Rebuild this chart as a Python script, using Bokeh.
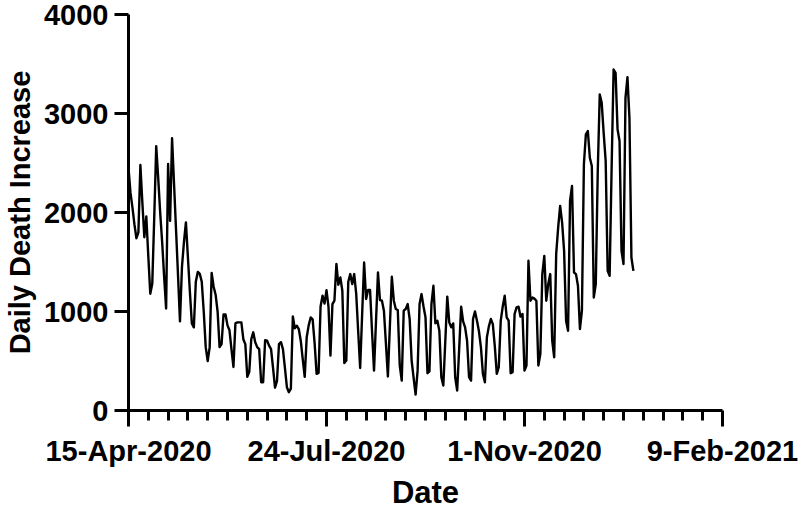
import pandas as pd
from bokeh.plotting import figure
from bokeh.models import Range1d, FixedTicker
from bokeh.embed import file_html
from bokeh.resources import INLINE

# ---- data ----
start_date = "2020-04-15"
deaths = [
    2450, 2200, 2050, 1880, 1740, 1800, 2480,
    2100, 1750, 1960, 1560, 1180, 1280, 1950,
    2670, 2350, 2000, 1700, 1350, 1030, 2490,
    1915, 2750, 2290, 1830, 1370, 900, 1450,
    1700, 1900, 1550, 1200, 880, 840, 1300,
    1400, 1380, 1300, 1000, 640, 500, 640,
    1390, 1250, 1170, 1000, 640, 670, 970,
    970, 860, 810, 620, 440, 880, 890,
    890, 890, 720, 670, 340, 390, 720,
    790, 690, 640, 620, 285, 285, 710,
    705, 655, 620, 430, 230, 300, 670,
    690, 620, 430, 235, 185, 220, 950,
    830, 857, 823, 705, 520, 340, 740,
    860, 940, 920, 680, 370, 380, 1050,
    1160, 1080, 1215, 1050, 554, 1075, 1110,
    1480, 1270, 1344, 1210, 480, 504, 1300,
    1378, 1277, 1378, 1180, 800, 430, 970,
    1495, 1126, 1217, 1217, 800, 403, 900,
    1394, 1116, 1109, 1008, 680, 343, 850,
    1351, 1109, 1025, 1015, 454, 302, 1008,
    1025, 1075, 924, 504, 330, 161, 400,
    1075, 1176, 1050, 941, 376, 396, 1075,
    1260, 880, 907, 806, 336, 252, 700,
    1150, 890, 840, 880, 336, 202, 620,
    1048, 900, 840, 705, 336, 302, 924,
    1001, 907, 800, 638, 370, 285, 739,
    850, 924, 873, 650, 370, 437, 907,
    1050, 1159, 941, 907, 376, 386, 975,
    1041, 1048, 948, 975, 403, 454, 1512,
    1109, 1142, 1130, 1109, 454, 571, 1378,
    1562, 1109, 1277, 1378, 705, 537, 1579,
    1848, 2066, 1898, 1613, 907, 806, 2117,
    2268, 1394, 1378, 1260, 823, 1008, 2487,
    2789, 2822, 2553, 2470, 1142, 1277, 2419,
    3192, 3108, 2800, 2520, 1411, 1361, 2450,
    3444, 3411, 2840, 2722, 1613, 1479, 3158,
    3367, 2957, 1545, 1411,
]
x_tick_dates = ["2020-04-15", "2020-07-24", "2020-11-01", "2021-02-09"]
x_tick_labels = ["15-Apr-2020", "24-Jul-2020", "1-Nov-2020", "9-Feb-2021"]
y_ticks = [0, 1000, 2000, 3000, 4000]
x_title = "Date"
y_title = "Daily Death Increase"

dates = pd.date_range(start_date, periods=len(deaths), freq="D")


def ms(d):
    return pd.Timestamp(d).value / 1e6


major_ms = [ms(d) for d in x_tick_dates]
minor_ms = []
for a, b in zip(major_ms[:-1], major_ms[1:]):
    step = (b - a) / 10
    minor_ms += [a + step * k for k in range(1, 10)]

FONT = "Liberation Sans"

p = figure(
    width=800, height=513,
    x_axis_type="datetime",
    x_range=Range1d(pd.Timestamp(x_tick_dates[0]), pd.Timestamp(x_tick_dates[-1])),
    y_range=Range1d(0, 4000),
    output_backend="svg", toolbar_location=None,
    min_border_left=128, min_border_right=78,
    min_border_top=14, min_border_bottom=103,
)
p.outline_line_color = None
p.xgrid.visible = False
p.ygrid.visible = False
p.background_fill_color = "white"
p.border_fill_color = "white"

p.line(dates, deaths, line_color="black", line_width=2.4, line_join="round")

# x axis
xa = p.xaxis[0]
xa.ticker = FixedTicker(ticks=major_ms, minor_ticks=minor_ms)
xa.major_label_overrides = {t: lab for t, lab in zip(major_ms, x_tick_labels)}
xa.axis_label = x_title

# y axis
ya = p.yaxis[0]
ya.ticker = FixedTicker(ticks=y_ticks, minor_ticks=[])
ya.axis_label = y_title

for ax in (xa, ya):
    ax.axis_line_width = 3
    ax.axis_line_color = "black"
    ax.major_tick_line_width = 3
    ax.major_tick_line_color = "black"
    ax.minor_tick_line_width = 3
    ax.minor_tick_line_color = "black"
    ax.major_tick_in = 0
    ax.minor_tick_in = 0
    ax.major_label_text_font = FONT
    ax.major_label_text_font_style = "bold"
    ax.major_label_text_font_size = "29px"
    ax.major_label_text_color = "black"
    ax.axis_label_text_font = FONT
    ax.axis_label_text_font_style = "bold"
    ax.axis_label_text_color = "black"

xa.major_tick_out = 16
xa.minor_tick_out = 10
xa.major_label_standoff = 8
xa.axis_label_standoff = 5
xa.axis_label_text_font_size = "31px"

ya.major_tick_out = 14
ya.minor_tick_out = 0
ya.major_label_standoff = 6
ya.axis_label_standoff = 5
ya.axis_label_text_font_size = "29px"

open("out.html", "w").write(file_html(p, INLINE))
